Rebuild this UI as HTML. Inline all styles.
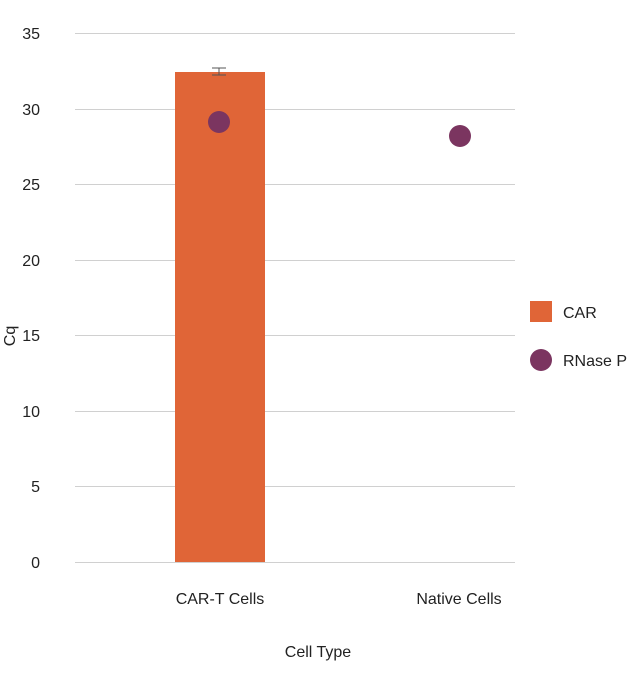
<!DOCTYPE html>
<html><head><meta charset="utf-8"><style>
body{margin:0;background:#fff;}
svg text{font-family:"Liberation Sans",sans-serif;fill:#222;}
</style></head><body>
<svg width="640" height="672" viewBox="0 0 640 672" xmlns="http://www.w3.org/2000/svg">
<g stroke="#d0d0d0" stroke-width="1">
<line x1="75" x2="515" y1="33.5" y2="33.5"/>
<line x1="75" x2="515" y1="109.5" y2="109.5"/>
<line x1="75" x2="515" y1="184.5" y2="184.5"/>
<line x1="75" x2="515" y1="260.5" y2="260.5"/>
<line x1="75" x2="515" y1="335.5" y2="335.5"/>
<line x1="75" x2="515" y1="411.5" y2="411.5"/>
<line x1="75" x2="515" y1="486.5" y2="486.5"/>
<line x1="75" x2="515" y1="562.5" y2="562.5"/>
</g>
<g font-size="16" text-anchor="end">
<text x="40" y="39">35</text>
<text x="40" y="115">30</text>
<text x="40" y="190">25</text>
<text x="40" y="266">20</text>
<text x="40" y="341">15</text>
<text x="40" y="417">10</text>
<text x="40" y="492">5</text>
<text x="40" y="568">0</text>
</g>
<rect x="175" y="72" width="90" height="490" fill="#e06537"/>
<g stroke="#555" stroke-width="1">
<line x1="219" x2="219" y1="68" y2="75"/>
<line x1="212" x2="226" y1="68" y2="68"/>
<line x1="212" x2="226" y1="75" y2="75"/>
</g>
<circle cx="219" cy="122" r="11" fill="#7b3560"/>
<circle cx="460" cy="136" r="11" fill="#7b3560"/>
<g font-size="16" text-anchor="middle">
<text x="220" y="604">CAR-T Cells</text>
<text x="459" y="604">Native Cells</text>
<text x="318" y="657">Cell Type</text>
</g>
<text x="0" y="0" font-size="16" text-anchor="middle" transform="translate(15,336) rotate(-90)">Cq</text>
<rect x="530" y="301" width="22" height="21" fill="#e06537"/>
<text x="563" y="318" font-size="16">CAR</text>
<circle cx="541" cy="360" r="11" fill="#7b3560"/>
<text x="563" y="366" font-size="16">RNase P</text>
</svg>
</body></html>
